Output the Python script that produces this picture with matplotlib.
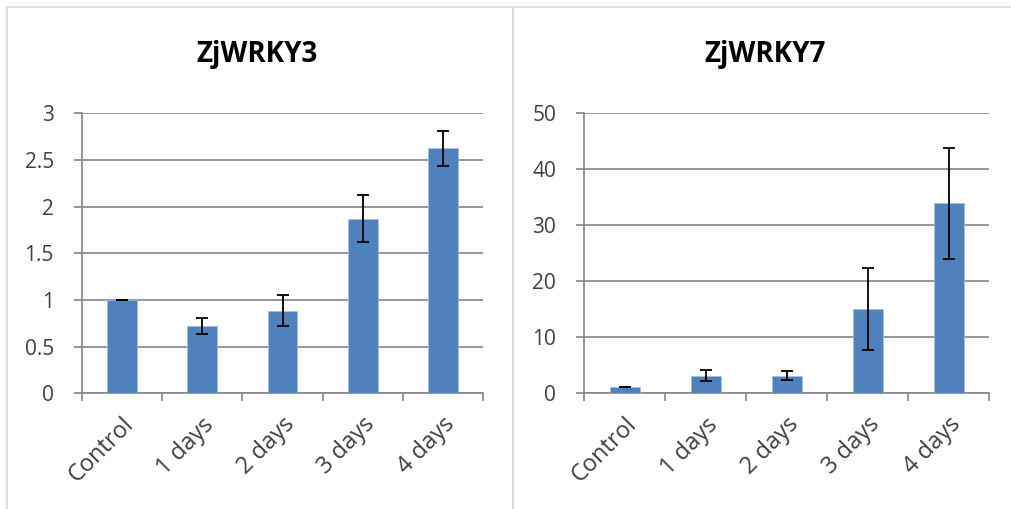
import matplotlib
matplotlib.use("Agg")
import matplotlib.pyplot as plt
from matplotlib.patches import Rectangle

categories = ["Control", "1 days", "2 days", "3 days", "4 days"]
wrky3_values = [1.0, 0.72, 0.885, 1.87, 2.625]
wrky3_errors = [0.0, 0.085, 0.165, 0.25, 0.19]
wrky7_values = [1.05, 3.15, 3.15, 15.1, 33.9]
wrky7_errors = [0.0, 1.0, 0.8, 7.3, 9.9]
titles = ["ZjWRKY3", "ZjWRKY7"]

plt.rcParams['font.family'] = ['Open Sans', 'DejaVu Sans']

W, H = 1012, 509
fig = plt.figure(figsize=(W / 100, H / 100), dpi=100)
fig.patch.set_facecolor("white")

# panel borders
for (x0, x1) in [(7, 513), (513, 1020)]:
    fig.patches.append(Rectangle((x0 / W, -0.01), (x1 - x0) / W, (H - 7) / H + 0.01,
                                 transform=fig.transFigure, fill=False,
                                 edgecolor="#D9D9D9", linewidth=1.2))

axes_specs = [
    (81.7, 483.3, wrky3_values, wrky3_errors, (0, 3), [0, 0.5, 1, 1.5, 2, 2.5, 3],
     ["0", "0.5", "1", "1.5", "2", "2.5", "3"]),
    (584.0, 989.3, wrky7_values, wrky7_errors, (0, 50), [0, 10, 20, 30, 40, 50],
     ["0", "10", "20", "30", "40", "50"]),
]
title_x = [257.5, 765.0]

y_top, y_bot = 113.3, 393.3
for i, (xl, xr, vals, errs, ylim, yt, ytl) in enumerate(axes_specs):
    ax = fig.add_axes([xl / W, 1 - y_bot / H, (xr - xl) / W, (y_bot - y_top) / H])
    x = list(range(len(categories)))
    ax.bar(x, vals, width=0.37, color="#4F81BD", edgecolor="#A7C0DE", linewidth=0.5, zorder=3)
    ax.errorbar(x, vals, yerr=errs, fmt="none", ecolor="black", elinewidth=1.3,
                capsize=4.2, capthick=1.3, zorder=4)
    ax.set_xlim(-0.5, len(categories) - 0.5)
    ax.set_ylim(*ylim)
    ax.set_yticks(yt)
    ax.set_yticklabels(ytl)
    ax.set_xticks(x)
    ax.set_xticklabels(categories, rotation=45, ha="right", rotation_mode="anchor")
    ax.set_xticks([v - 0.5 for v in range(len(categories) + 1)], minor=True)
    ax.tick_params(axis="x", which="major", length=0, pad=14, labelsize=17, colors="#404040")
    ax.tick_params(axis="x", which="minor", length=6, width=1.2, color="#868686", direction="out")
    ax.tick_params(axis="y", length=6, width=1.2, color="#868686", direction="out",
                   labelsize=15, labelcolor="#404040", pad=14)
    ax.grid(axis="y", color="#868686", linewidth=1.2, zorder=0)
    ax.set_axisbelow(True)
    for s in ["top", "right"]:
        ax.spines[s].set_visible(False)
    for s in ["left", "bottom"]:
        ax.spines[s].set_color("#868686")
        ax.spines[s].set_linewidth(1.2)
    fig.text(title_x[i] / W, 1 - 62 / H, titles[i], ha="center", va="baseline",
             fontsize=20, fontweight="bold", color="black")

fig.savefig("out.png", dpi=100, facecolor="white")
